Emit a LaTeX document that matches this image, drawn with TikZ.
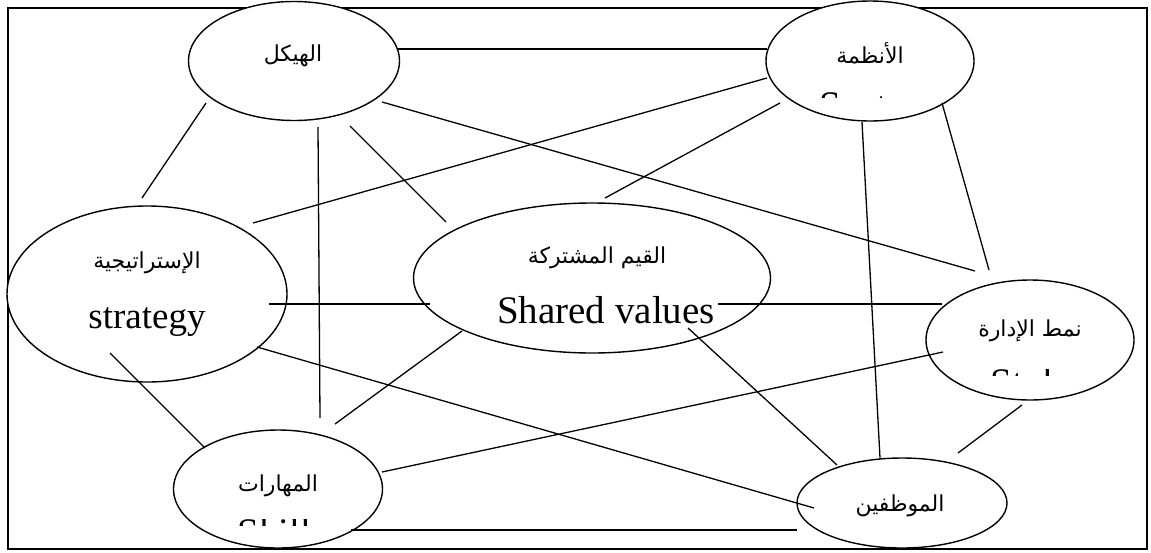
\documentclass[tikz,border=0pt]{standalone}
\usepackage{fontspec}
\setmainfont{Liberation Serif}
\newfontfamily\arabicfont[Script=Arabic]{DejaVu Sans}
\TeXXeTstate=1
\usetikzlibrary{shapes.geometric}
\tikzset{
  bubble/.style={ellipse, draw, fill=white, line width=1.4pt, inner sep=0pt},
  link/.style={line width=1.3pt},
  ar/.style={font=\arabicfont\fontsize{22}{26}\selectfont, inner sep=0pt},
  en/.style={font=\fontsize{39}{44}\selectfont, inner sep=0pt, anchor=base},
}
\begin{document}
\begin{tikzpicture}[x=1pt,y=-1pt]
\useasboundingbox (0,0) rectangle (1151,552);
\draw[line width=2pt] (8,8) rectangle (1147,549);
% ellipses
\node[bubble, minimum width=211pt, minimum height=119pt] (structure) at (294,61) {};
\node[bubble, minimum width=208pt, minimum height=120pt] (systems) at (870,61) {};
\node[bubble, minimum width=280pt, minimum height=176pt] (strategy) at (147,294) {};
\node[bubble, minimum width=357pt, minimum height=150pt] (shared) at (592,278) {};
\node[bubble, minimum width=208pt, minimum height=120pt] (style) at (1030,340) {};
\node[bubble, minimum width=209pt, minimum height=118pt] (skills) at (278,489) {};
\node[bubble, minimum width=210pt, minimum height=90pt] (staff) at (902,503) {};
% labels
\node[ar] (tstructure) at (293,56) {\beginR الهيكل\endR};
\node[ar] (tsystems) at (870,53) {\beginR الأنظمة\endR};
\node[ar] (tstrategy) at (147,263) {\beginR الإستراتيجية\endR};
\node[ar] (tshared) at (597,258) {\beginR القيم المشتركة\endR};
\node[ar] (tstyle) at (1030,331) {\beginR نمط الإدارة\endR};
\node[ar] (tskills) at (278,486) {\beginR المهارات\endR};
\node[ar] (tstaff) at (900,506) {\beginR الموظفين\endR};
\node[en, font=\fontsize{37}{44}\selectfont] (estrategy) at (147,328) {strategy};
\node[en] (eshared) at (606,323) {Shared values};
\begin{scope}
\clip (780,91) rectangle (960,97);
\node[en] (esystems) at (885,118) {Systems};
\end{scope}
\begin{scope}
\clip (960,369) rectangle (1100,375);
\node[en] (estyle) at (1031,395) {Style};
\end{scope}
\begin{scope}
\clip (220,519) rectangle (340,525);
\node[en] (eskills) at (282,545) {Skills};
\end{scope}
% connector end points
\coordinate (a1) at (398,49);  \coordinate (a2) at (767,49);
\coordinate (b1) at (351,530); \coordinate (b2) at (797,530);
\coordinate (c1) at (206,103); \coordinate (c2) at (142,198);
\coordinate (d1) at (318,127); \coordinate (d2) at (320,418);
\coordinate (e1) at (350,126); \coordinate (e2) at (446,222);
\coordinate (f1) at (382,102); \coordinate (f2) at (975,271);
\coordinate (g1) at (767,78);  \coordinate (g2) at (253,223);
\coordinate (h1) at (780,103); \coordinate (h2) at (605,198);
\coordinate (i1) at (862,122); \coordinate (i2) at (880,458);
\coordinate (j1) at (942,103); \coordinate (j2) at (989,270);
\coordinate (k1) at (269,304); \coordinate (k2) at (430,304);
\coordinate (l1) at (718,304); \coordinate (l2) at (942,304);
\coordinate (m1) at (110,353); \coordinate (m2) at (205,448);
\coordinate (n1) at (257,347); \coordinate (n2) at (814,508);
\coordinate (o1) at (462,331); \coordinate (o2) at (335,424);
\coordinate (p1) at (943,352); \coordinate (p2) at (382,472);
\coordinate (q1) at (1022,405);\coordinate (q2) at (958,453);
\coordinate (r1) at (688,328); \coordinate (r2) at (837,465);
\foreach \s in {a,b,c,d,e,f,g,h,i,j,k,l,m,n,o,p,q,r}
  \draw[link] (\s1) -- (\s2);
\end{tikzpicture}
\end{document}
